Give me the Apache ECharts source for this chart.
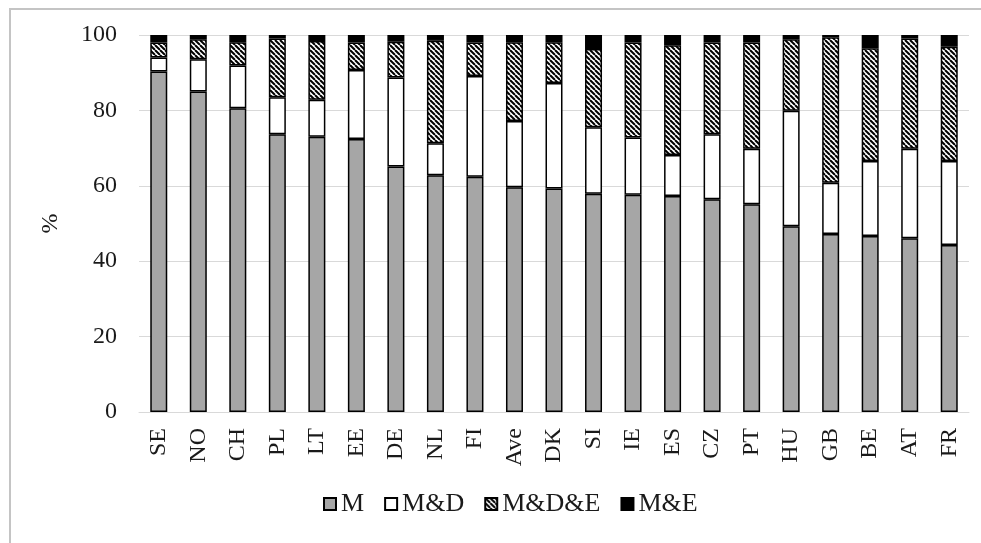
<!DOCTYPE html>
<html>
<head>
<meta charset="utf-8">
<script src="https://cdn.jsdelivr.net/npm/echarts@6/dist/echarts.min.js"></script>
<style>
html,body{margin:0;padding:0;background:#fff;}
#chart{width:981px;height:543px;}
</style>
</head>
<body>
<div id="chart"></div>
<script>
const categories = ['SE','NO','CH','PL','LT','EE','DE','NL','FI','Ave','DK','SI','IE','ES','CZ','PT','HU','GB','BE','AT','FR'];
const seriesNames = ['M','M&D','M&D&E','M&E'];
const valuesM   = [90.3,85.0,80.6,73.7,73.0,72.4,65.1,62.8,62.4,59.6,59.3,57.9,57.6,57.3,56.4,55.1,49.3,47.2,46.7,46.1,44.3];
const valuesMD  = [3.7,8.6,11.3,9.8,9.8,18.3,23.6,8.5,26.7,17.6,28.0,17.6,15.2,10.9,17.3,14.7,30.6,13.6,19.9,23.7,22.3];
const valuesMDE = [4.0,5.3,6.2,15.6,15.6,7.3,9.5,27.2,8.9,20.9,10.8,20.8,25.2,29.1,24.3,28.2,19.0,38.6,29.9,29.3,30.3];
const valuesME  = [2.0,1.1,1.9,0.9,1.6,2.0,1.8,1.5,2.0,1.9,1.9,3.7,2.0,2.7,2.0,2.0,1.1,0.6,3.5,0.9,3.1];
const yTicks = [0,20,40,60,80,100];

const FONT = 'Liberation Serif';

const tile = document.createElement('canvas');
const T = 5;
tile.width = T; tile.height = T;
const cx = tile.getContext('2d');
cx.fillStyle = '#ffffff';
cx.fillRect(0,0,T,T);
cx.strokeStyle = '#000000';
cx.lineWidth = 2;
for (const k of [-T, 0, T]) {
  cx.beginPath();
  cx.moveTo(k, 0);
  cx.lineTo(k + T, T);
  cx.stroke();
}

const fills = ['#a6a6a6', '#ffffff', {image: tile, repeat: 'repeat'}, '#000000'];
const data = [valuesM, valuesMD, valuesMDE, valuesME];

const chart = echarts.init(document.getElementById('chart'), null, {renderer: 'canvas'});
chart.setOption({
  animation: false,
  backgroundColor: '#ffffff',
  textStyle: {fontFamily: FONT},
  graphic: [{
    type: 'rect',
    shape: {x: 10, y: 9, width: 1100, height: 700},
    style: {fill: 'none', stroke: '#c4c4c4', lineWidth: 2},
    silent: true
  }],
  grid: {left: 139, right: 12, top: 35, bottom: 131, containLabel: false},
  legend: {
    left: 318, top: 486,
    itemWidth: 12, itemHeight: 12, itemGap: 20,
    icon: 'rect',
    textStyle: {fontFamily: FONT, fontSize: 26, color: '#1a1a1a'},
    data: seriesNames
  },
  xAxis: {
    type: 'category',
    data: categories,
    axisLine: {show: true, lineStyle: {color: '#d9d9d9', width: 1}},
    axisTick: {show: false},
    axisLabel: {rotate: 90, margin: 16, fontFamily: FONT, fontSize: 24, color: '#1a1a1a', interval: 0}
  },
  yAxis: {
    type: 'value',
    min: yTicks[0], max: yTicks[yTicks.length-1], interval: 20,
    name: '%',
    nameLocation: 'middle',
    nameGap: 76,
    nameRotate: 90,
    nameTextStyle: {fontFamily: FONT, fontSize: 24, color: '#1a1a1a'},
    axisLine: {show: false},
    axisTick: {show: false},
    axisLabel: {margin: 22, fontFamily: FONT, fontSize: 24, color: '#1a1a1a'},
    splitLine: {lineStyle: {color: '#d9d9d9', width: 1}}
  },
  series: seriesNames.map((n, i) => ({
    name: n,
    type: 'bar',
    stack: 'total',
    barWidth: 17,
    data: data[i],
    itemStyle: {color: fills[i], borderColor: '#000000', borderWidth: 1.5}
  }))
});
</script>
</body>
</html>
